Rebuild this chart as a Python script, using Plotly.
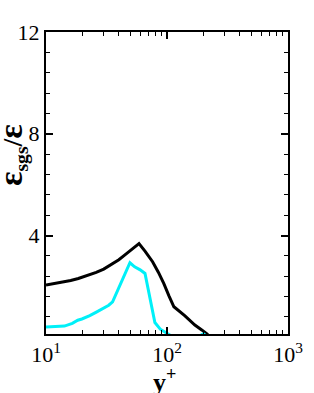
import plotly.graph_objects as go

# Data
black_x = [10, 12, 14, 16, 18.5, 22, 26, 30, 35, 40, 46, 52, 58.7, 66, 76, 85, 94, 104, 114, 140, 170, 195, 218]
black_y = [2.06, 2.12, 2.18, 2.23, 2.31, 2.42, 2.55, 2.68, 2.86, 3.05, 3.28, 3.5, 3.68, 3.38, 2.97, 2.55, 2.12, 1.62, 1.2, 0.85, 0.48, 0.28, 0.1]

cyan_x = [10, 12, 14.2, 16.5, 18.3, 19.8, 23, 26.3, 30, 33, 35.5, 40, 44, 49.4, 54, 60, 65.8, 72, 79.4, 88, 97, 108, 150, 190, 200, 212]
cyan_y = [0.41, 0.42, 0.44, 0.55, 0.67, 0.72, 0.85, 1.0, 1.15, 1.26, 1.39, 1.95, 2.45, 2.93, 2.77, 2.65, 2.51, 1.6, 0.58, 0.32, 0.2, 0.06, 0.0, 0.08, 0.14, 0.05]

x_ticks = [10, 100, 1000]
x_ticktext = ["10<sup>1</sup>", "10<sup>2</sup>", "10<sup>3</sup>"]
x_minor = [20, 30, 40, 50, 60, 70, 80, 90, 200, 300, 400, 500, 600, 700, 800, 900]
y_range = [0.13, 12]
y_ticks = [4, 8, 12]

fig = go.Figure()
fig.add_trace(go.Scatter(x=black_x, y=black_y, mode="lines",
                         line=dict(color="black", width=3), showlegend=False))
fig.add_trace(go.Scatter(x=cyan_x, y=cyan_y, mode="lines",
                         line=dict(color="#00F0F8", width=3), showlegend=False))

font = "Liberation Serif"
fig.update_layout(
    width=314, height=393,
    margin=dict(l=46, r=26, t=32, b=59),
    plot_bgcolor="white", paper_bgcolor="white",
    font=dict(family=font, color="black", size=22),
)
common = dict(
    showgrid=False, zeroline=False, automargin=False,
    showline=True, linecolor="black", linewidth=2, mirror="ticks",
    ticks="inside", ticklen=7, tickwidth=2, tickcolor="black",
    tickfont=dict(size=22, family=font, color="black"),
)
fig.update_xaxes(
    type="log", range=[1, 3],
    tickvals=x_ticks, ticktext=x_ticktext,
    minor=dict(tickvals=x_minor, ticks="inside", ticklen=4, tickwidth=1, tickcolor="black", showgrid=False),
    **common,
)
fig.update_yaxes(
    range=y_range, tickvals=y_ticks,
    minor=dict(dtick=0.8, tick0=0, ticks="inside", ticklen=4, tickwidth=1, tickcolor="black", showgrid=False),
    **common,
)
fig.add_annotation(
    text="<b>y<sup>+</sup></b>", xref="paper", yref="paper",
    x=0.4917, y=-0.093, xanchor="center", yanchor="top", showarrow=False,
    font=dict(size=26, family=font, color="black"),
)
fig.add_annotation(
    text="<b><span style='font-size:34px'>ε</span><sub>sgs</sub>/<span style='font-size:34px'>ε</span></b>",
    xref="paper", yref="paper", textangle=-90,
    x=-0.14, y=0.593, xanchor="center", yanchor="middle", showarrow=False,
    font=dict(size=28, family=font, color="black"),
)
fig.write_html("out.html", config={"displayModeBar": False},
               post_script="document.body.style.margin='0';")
